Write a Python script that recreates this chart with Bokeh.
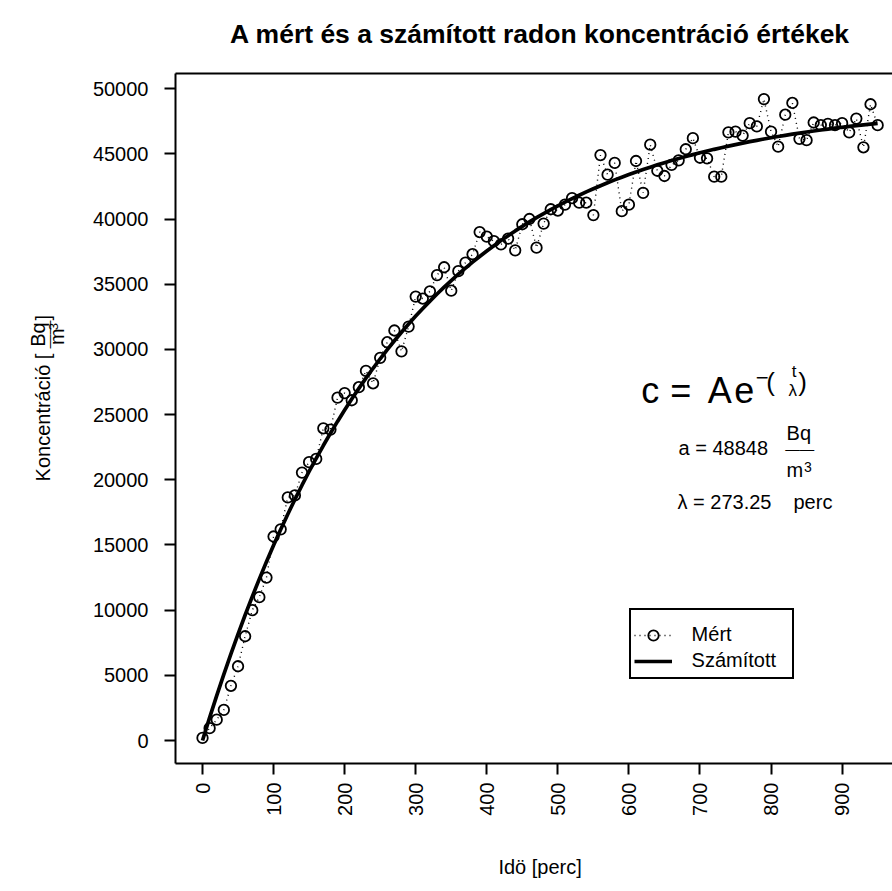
import math
from bokeh.plotting import figure
from bokeh.models import (Range1d, LinearAxis, FixedTicker, Label, Legend, LegendItem,
                          PrintfTickFormatter)
from bokeh.core.properties import value
from bokeh.embed import file_html
from bokeh.resources import INLINE

# ---------------- data ----------------
time_min = list(range(0, 951, 10))
measured = [
    200, 950, 1600, 2350, 4200, 5700, 8000, 10000, 11000, 12500,
    15650, 16200, 18650, 18800, 20550, 21350, 21600, 23950, 23850, 26300,
    26650, 26100, 27100, 28350, 27400, 29350, 30550, 31450, 29850, 31750,
    34050, 33900, 34450, 35700, 36300, 34500, 36000, 36650, 37300, 39000,
    38650, 38300, 38050, 38500, 37600, 39600, 40000, 37800, 39650, 40750,
    40650, 41100, 41600, 41250, 41250, 40300, 44900, 43400, 44300, 40600,
    41100, 44450, 42000, 45700, 43700, 43300, 44150, 44500, 45350, 46200,
    44700, 44650, 43250, 43250, 46650, 46700, 46400, 47350, 47100, 49200,
    46700, 45550, 48000, 48900, 46150, 46050, 47400, 47200, 47300, 47200,
    47350, 46650, 47700, 45500, 48800, 47200,
]
A_fit = 48848
lambda_fit = 273.25
fitted = [A_fit * (1 - math.exp(-t / lambda_fit)) for t in time_min]

x_ticks = [0, 100, 200, 300, 400, 500, 600, 700, 800, 900]
y_ticks = [0, 5000, 10000, 15000, 20000, 25000, 30000, 35000, 40000, 45000, 50000]

title_text = "A mért és a számított radon koncentráció értékek"
xlab_text = "Idö [perc]"
legend_labels = ["Mért", "Számított"]

# ---------------- layout ----------------
FONT = "Liberation Sans"
W, H = 892, 891
FL, FR, FT, FB = 174.7, 892.0, 72.7, 763.3   # frame edges in page pixels

xmin = min(time_min) - 0.04 * (max(time_min) - min(time_min))
xmax_full = max(time_min) + 0.04 * (max(time_min) - min(time_min))
xmax_visible = 970.9
ypad = 0.04 * (max(measured) - min(measured))
ymin = min(measured) - ypad
ymax = max(measured) + ypad

p = figure(width=W, height=H, output_backend="svg", toolbar_location=None, title=None,
           x_range=Range1d(xmin, xmax_visible), y_range=Range1d(ymin, ymax),
           x_axis_location=None, y_axis_location=None,
           min_border_left=int(round(FL)), min_border_right=0,
           min_border_top=int(round(FT)), min_border_bottom=int(round(H - FB)))
p.outline_line_color = None
p.background_fill_color = "white"
p.border_fill_color = "white"
for g in p.grid:
    g.visible = False

def style_axis(ax):
    ax.axis_line_color = "black"
    ax.axis_line_width = 2
    ax.major_tick_line_color = "black"
    ax.major_tick_line_width = 2
    ax.major_tick_in = 0
    ax.major_tick_out = 11
    ax.minor_tick_line_color = None
    ax.minor_tick_out = 0
    ax.major_label_text_font = FONT
    ax.major_label_text_font_size = "20px"
    ax.major_label_text_color = "black"

yaxis = LinearAxis(ticker=FixedTicker(ticks=y_ticks), formatter=PrintfTickFormatter(format="%d"))
style_axis(yaxis)
yaxis.major_label_standoff = 16
p.add_layout(yaxis, "left")

xaxis = LinearAxis(ticker=FixedTicker(ticks=x_ticks), formatter=PrintfTickFormatter(format="%d"))
style_axis(xaxis)
xaxis.major_label_orientation = math.pi / 2
xaxis.major_label_standoff = 8
p.add_layout(xaxis, "below")

topaxis = LinearAxis(ticker=FixedTicker(ticks=[]))
topaxis.axis_line_color = "black"
topaxis.axis_line_width = 2
topaxis.major_tick_line_color = None
topaxis.minor_tick_line_color = None
topaxis.major_tick_out = 0
topaxis.minor_tick_out = 0
topaxis.major_label_standoff = 0
topaxis.major_label_text_font_size = "0px"
p.add_layout(topaxis, "above")

# ---------------- data marks ----------------
r_dot = p.line(time_min, measured, line_color="black", line_width=1.4, line_dash="1 4")
r_pts = p.scatter(time_min, measured, marker="circle", size=10.5, fill_color=None,
                  line_color="black", line_width=1.8)
r_fit = p.line(time_min, fitted, line_color="black", line_width=3.7)

legend = Legend(items=[LegendItem(label=legend_labels[0], renderers=[r_dot, r_pts]),
                       LegendItem(label=legend_labels[1], renderers=[r_fit])],
                location=(628.3 - FL, FB - 679.0), orientation="vertical",
                title=" ", title_text_font_size="8px", title_standoff=0,
                border_line_color="black", border_line_width=2, border_line_alpha=1,
                background_fill_color="white", background_fill_alpha=1,
                label_text_font=FONT, label_text_font_size="20px", label_text_color="black",
                glyph_width=38, glyph_height=26, label_height=26, label_standoff=20,
                label_width=97, padding=3, spacing=0, margin=0)
p.add_layout(legend, "center")

# ---------------- text ----------------
BASE_SHIFT = 0.35   # measured offset of the rendered alphabetic baseline (in em)

def sx(ix):
    return ix - FL

def sy(iy):
    return FB - iy

def txt(s, ix, iy, size, align="left"):
    lab = Label(x=sx(ix), y=sy(iy - BASE_SHIFT * size), x_units="screen", y_units="screen",
                text=s, text_font=FONT, text_font_size=f"{size}px", text_color="black",
                text_align=align, text_baseline="alphabetic")
    p.add_layout(lab)
    return lab

def dx(ix):
    return xmin + (ix - FL) * (xmax_visible - xmin) / (FR - FL)

def dy(iy):
    return ymin + (FB - iy) * (ymax - ymin) / (FB - FT)

def otxt(s, x_data, iy, size, style="normal"):
    # horizontal text in the margins, centred on a data x position
    p.text(x=[x_data], y=[dy(iy - BASE_SHIFT * size)], text=[s], angle=0,
           text_font=value(FONT), text_font_size=value(f"{size}px"), text_color="black",
           text_font_style=style, text_align="center", text_baseline="alphabetic",
           level="annotation")

def vtxt(s, ix, iy, size, align="left"):
    # rotated text outside the frame (y axis title pieces); ix is the baseline column
    p.text(x=[dx(ix - BASE_SHIFT * size)], y=[dy(iy)], text=[s], angle=math.pi / 2,
           text_font=value(FONT), text_font_size=value(f"{size}px"), text_color="black",
           text_align=align, text_baseline="alphabetic", level="annotation")

# title and x axis title, centred on the full plotting region of the original figure
region_center = (xmin + xmax_full) / 2.0
otxt(title_text, region_center, 42.5, 26.5, style="bold")
otxt(xlab_text, region_center, 874.0, 20)

# y axis title: Koncentráció [Bq / m^3]
vtxt("Koncentráció [", 49, 481, 20)
vtxt("Bq", 44, 334, 20, align="center")
vtxt("——", 53, 334, 14, align="center")
vtxt("m", 63, 336, 20, align="center")
vtxt("3", 57, 326, 13, align="center")
vtxt("]", 49, 320, 20)

# formula  c = A e^-(t/lambda)
txt("c", 640.5, 402.7, 36)
txt("=", 669.5, 402.7, 36)
txt("A", 707.0, 402.7, 36)
txt("e", 733.5, 402.7, 36)
txt("\u2212", 755.0, 385.0, 22)
txt("(", 765.5, 391.0, 26)
txt("t", 793.3, 377.0, 17, align="center")
txt("\u03bb", 792.0, 396.7, 17, align="center")
txt(")", 797.5, 391.0, 26)

txt("a = 48848", 677.7, 455, 20)
txt("Bq", 798, 440, 20, align="center")
txt("\u2014\u2014", 799, 454.0, 14.5, align="center")
txt("m", 794, 476.7, 20, align="center")
txt("3", 807, 471.7, 14, align="center")
txt("\u03bb = 273.25", 676.7, 508.3, 20)
txt("perc", 792.7, 508.3, 20)

open("out.html", "w").write(file_html(p, INLINE))
